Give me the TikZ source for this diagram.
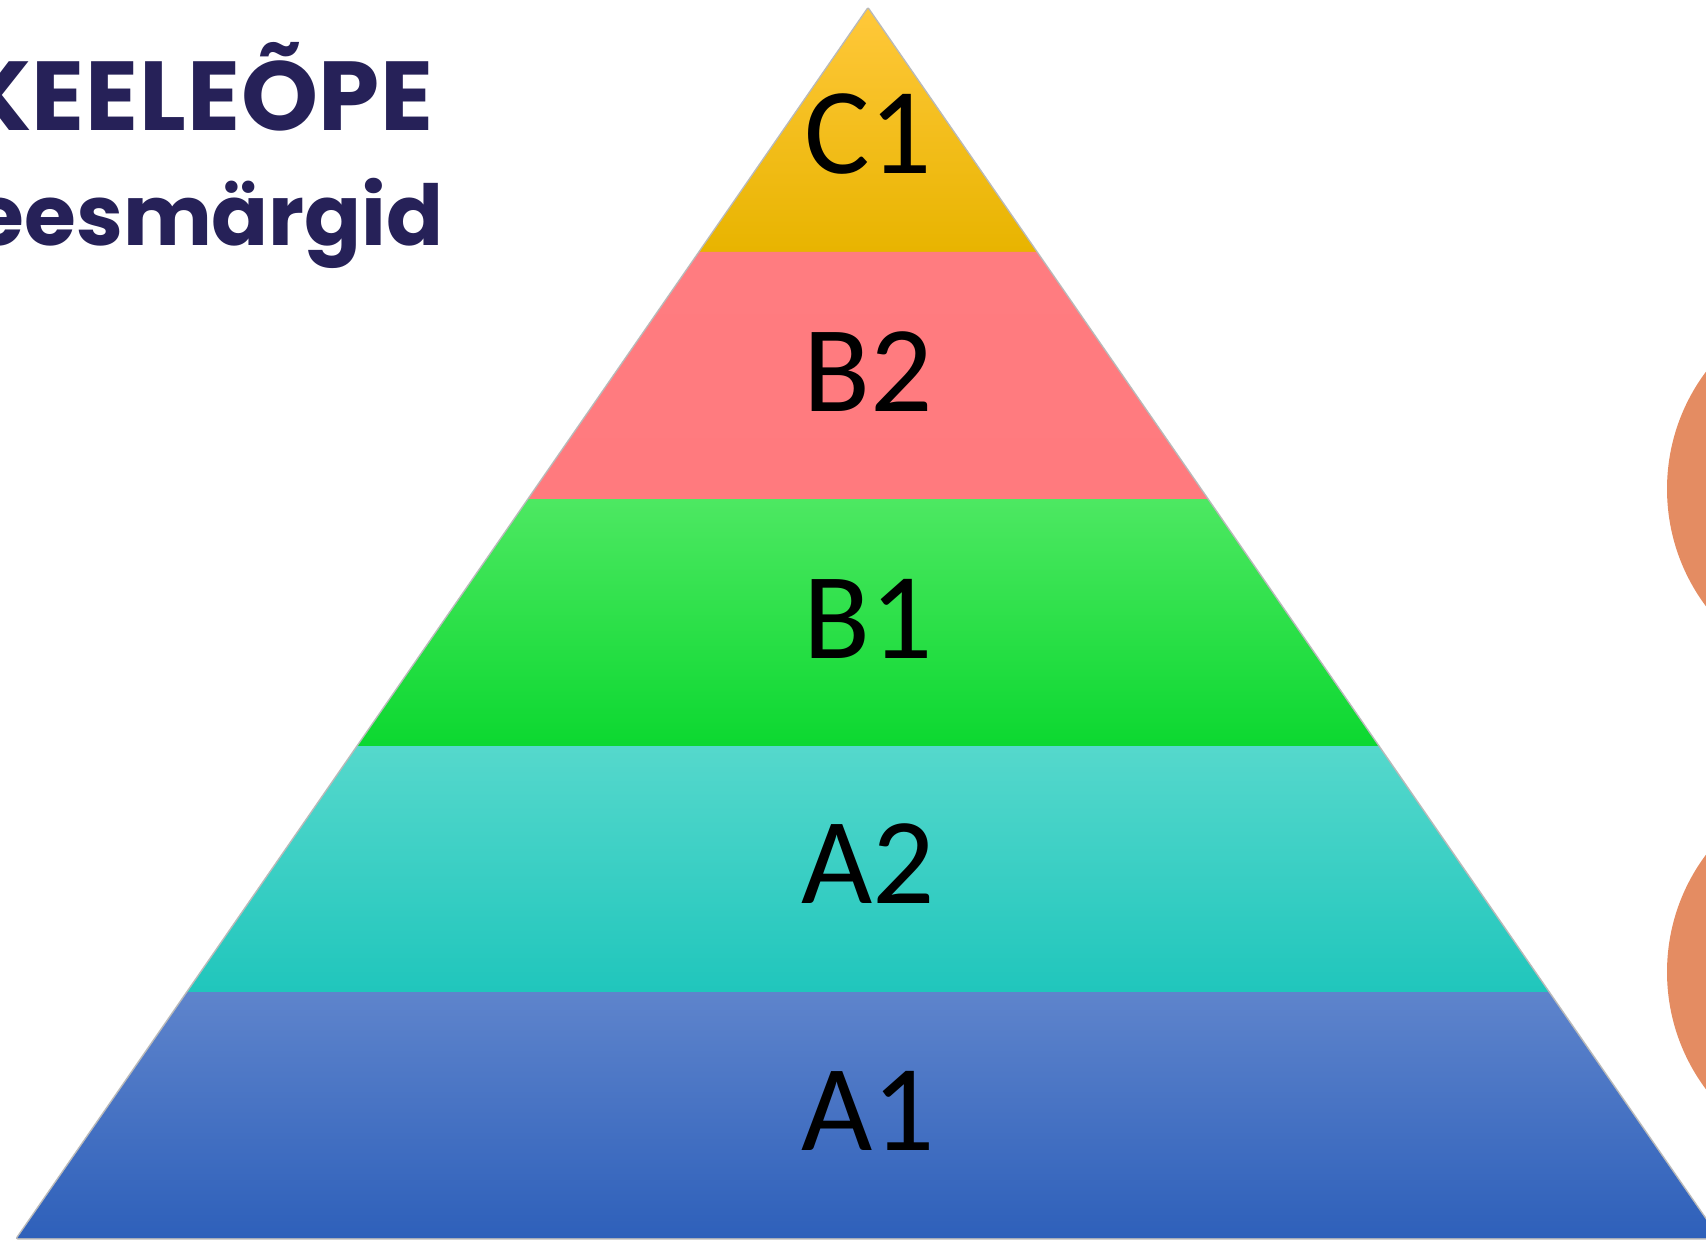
\documentclass[tikz,border=0pt]{standalone}
\usepackage{fontspec}
\newfontfamily\labelfont{Carlito}
\newfontfamily\titlefont{Poppins Bold}
\definecolor{titlecol}{HTML}{262158}
\definecolor{circcol}{HTML}{E48C62}
\definecolor{cTop}{HTML}{FFC83A}\definecolor{cMid}{HTML}{FFC600}\definecolor{cBot}{HTML}{E8B400}
\definecolor{bbTop}{HTML}{FF7C80}\definecolor{bbBot}{HTML}{FF7A7E}
\definecolor{bTop}{HTML}{4DE862}\definecolor{bMid}{HTML}{18E63C}\definecolor{bBot}{HTML}{0CD830}
\definecolor{aaTop}{HTML}{55D8CC}\definecolor{aaMid}{HTML}{2ED8CC}\definecolor{aaBot}{HTML}{20C6BC}
\definecolor{aTop}{HTML}{5E84CC}\definecolor{aMid}{HTML}{4474CC}\definecolor{aBot}{HTML}{2E60BA}
\tikzset{
  lvl/.style={inner sep=0pt, font=\labelfont\fontsize{123}{130}\selectfont, text=black},
  ttl/.style={inner sep=0pt, text=titlecol},
}
\begin{document}
\begin{tikzpicture}[x=1pt,y=-1pt]
\useasboundingbox (0,0) rectangle (1706,1241);
\begin{scope}
\clip (0,0) rectangle (1706,1241);
\fill[white] (0,0) rectangle (1706,1241);
% circles
\fill[circcol] (1863,489) circle (196);
\fill[circcol] (1863,972) circle (196);
% pyramid shadow
\draw[gray!55, line width=3pt, line join=round] (868,9) -- (1718.5,1238) -- (17.5,1238) -- cycle;
% bands
\shade[top color=cTop, middle color=cMid, bottom color=cBot] (868,9) -- (1036.2,252) -- (699.8,252) -- cycle;
\shade[top color=bbTop, bottom color=bbBot] (699.8,252) -- (1036.2,252) -- (1207.1,499) -- (528.9,499) -- cycle;
\shade[top color=bTop, middle color=bMid, bottom color=bBot] (528.9,499) -- (1207.1,499) -- (1378.0,746) -- (358.0,746) -- cycle;
\shade[top color=aaTop, middle color=aaMid, bottom color=aaBot] (358.0,746) -- (1378.0,746) -- (1548.2,992) -- (187.8,992) -- cycle;
\shade[top color=aTop, middle color=aMid, bottom color=aBot] (187.8,992) -- (1548.2,992) -- (1718.5,1238) -- (17.5,1238) -- cycle;
% labels
\node[lvl] (c1) at (868,134) {C1};
\node[lvl] (b2) at (868,372) {B2};
\node[lvl] (b1) at (868,619) {B1};
\node[lvl] (a2) at (868,864) {A2};
\node[lvl] (a1) at (868,1111) {A1};
% title
\node[ttl, anchor=base east, font=\titlefont\fontsize{98}{100}\selectfont] (t1) at (434,131) {\addfontfeature{LetterSpace=0.8}KEELEÕPE};
\node[ttl, anchor=base east, font=\titlefont\fontsize{84}{100}\selectfont] (t2) at (444,246) {eesmärgid};
\end{scope}
\end{tikzpicture}
\end{document}
